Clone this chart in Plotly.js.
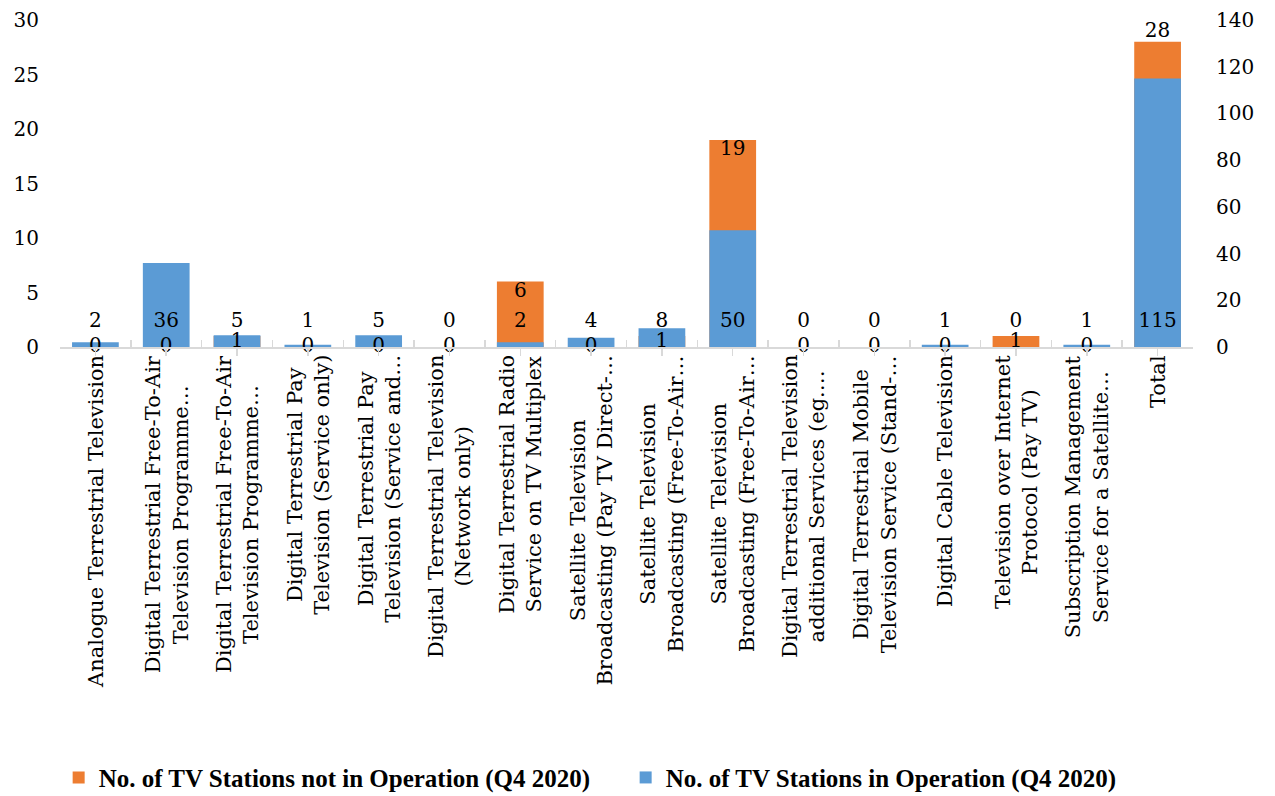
<!DOCTYPE html>
<html>
<head>
<meta charset="utf-8">
<script src="https://cdn.plot.ly/plotly-3.0.1.min.js"></script>
<style>
  html, body { margin: 0; padding: 0; background: #ffffff; }
  #chart { width: 1275px; height: 796px; }
</style>
</head>
<body>
<div id="chart"></div>
<script>
// ---- data ----
const categories = [
  "Analogue Terrestrial Television",
  "Digital Terrestrial Free-To-Air<br>Television Programme…",
  "Digital Terrestrial Free-To-Air<br>Television Programme…",
  "Digital Terrestrial Pay<br>Television (Service only)",
  "Digital Terrestrial Pay<br>Television (Service and…",
  "Digital Terrestrial Television<br>(Network only)",
  "Digital Terrestrial Radio<br>Service on TV Multiplex",
  "Satellite Television<br>Broadcasting (Pay TV Direct-…",
  "Satellite Television<br>Broadcasting (Free-To-Air…",
  "Satellite Television<br>Broadcasting (Free-To-Air…",
  "Digital Terrestrial Television<br>additional Services (eg.…",
  "Digital Terrestrial Mobile<br>Television Service (Stand-…",
  "Digital Cable Television",
  "Television over Internet<br>Protocol (Pay TV)",
  "Subscription Management<br>Service for a Satellite…",
  "Total"
];
const notInOperation = [0, 0, 1, 0, 0, 0, 6, 0, 1, 19, 0, 0, 0, 1, 0, 28];
const inOperation    = [2, 36, 5, 1, 5, 0, 2, 4, 8, 50, 0, 0, 1, 0, 1, 115];
const seriesNames = [
  "No. of TV Stations not in Operation (Q4 2020)",
  "No. of TV Stations in Operation (Q4 2020)"
];
const leftTicks = [0, 5, 10, 15, 20, 25, 30];
const rightTicks = [0, 20, 40, 60, 80, 100, 120, 140];

// ---- styling ----
const ORANGE = "#ED7D31";
const BLUE = "#5B9BD5";
const SERIF = "DejaVu Serif, Liberation Serif, serif";
const BLUE_LABEL_LEVEL = 10.5; // label row height in right-axis units
const xIdx = categories.map((_, i) => i);
// small orange values are labelled at the middle of their bar, larger ones at the top
const orangeLabelY = notInOperation.map(v => v >= 5 ? v : v / 2);
const orangeLabelPos = notInOperation.map(v => v >= 20 ? "top center" : (v >= 5 ? "bottom center" : "middle center"));

const traces = [
  {
    type: "bar", name: seriesNames[0], x: xIdx, y: notInOperation,
    xaxis: "x", yaxis: "y", marker: { color: ORANGE }, width: 0.66,
    hoverinfo: "skip"
  },
  {
    type: "bar", name: seriesNames[1], x: xIdx, y: inOperation,
    xaxis: "x", yaxis: "y2", marker: { color: BLUE }, width: 0.66,
    hoverinfo: "skip"
  },
  {
    type: "scatter", mode: "text", x: xIdx, y: inOperation.map(() => BLUE_LABEL_LEVEL),
    text: inOperation.map(String), textposition: "middle center",
    textfont: { family: SERIF, size: 20, color: "#000" },
    xaxis: "x", yaxis: "y2", showlegend: false, hoverinfo: "skip", cliponaxis: false
  },
  {
    type: "scatter", mode: "text", x: xIdx, y: orangeLabelY,
    text: notInOperation.map(String), textposition: orangeLabelPos,
    textfont: { family: SERIF, size: 20, color: "#000" },
    xaxis: "x", yaxis: "y3", showlegend: false, hoverinfo: "skip", cliponaxis: false
  }
];

const annotations = categories.map((c, i) => ({
  x: i, y: 0, xref: "x", yref: "y", text: c, textangle: -90,
  showarrow: false, xanchor: "center", yanchor: "top", yshift: -6, align: "center",
  font: { family: SERIF, size: 21, color: "#000" }
}));

const layout = {
  width: 1275, height: 796,
  margin: { l: 60, r: 82, t: 20, b: 449, autoexpand: false },
  paper_bgcolor: "#ffffff", plot_bgcolor: "#ffffff",
  barmode: "overlay",
  showlegend: true,
  font: { family: SERIF, size: 20, color: "#000" },
  xaxis: {
    range: [-0.5, categories.length - 0.5],
    tickmode: "linear", tick0: -0.5, dtick: 1,
    ticks: "inside", ticklen: 7, tickcolor: "#d9d9d9", tickwidth: 1.5,
    minor: { tickmode: "linear", tick0: 0, dtick: 1, ticks: "outside", ticklen: 7, tickcolor: "#d9d9d9", tickwidth: 1.5 },
    showticklabels: false, showgrid: false, zeroline: false,
    showline: true, linecolor: "#d9d9d9", linewidth: 1.5
  },
  yaxis: {
    range: [0, 30], tickmode: "array", tickvals: leftTicks,
    showgrid: false, zeroline: false, showline: false, ticks: "",
    ticklabelstandoff: 20,
    tickfont: { family: SERIF, size: 20, color: "#000" }
  },
  yaxis2: {
    range: [0, 140], tickmode: "array", tickvals: rightTicks,
    overlaying: "y", side: "right",
    showgrid: false, zeroline: false, showline: false, ticks: "",
    ticklabelstandoff: 22,
    tickfont: { family: SERIF, size: 20, color: "#000" }
  },
  yaxis3: {
    range: [0, 30], overlaying: "y", visible: false
  },
  legend: {
    orientation: "h", xref: "container", yref: "container",
    x: 0.046, xanchor: "left", y: 0.023, yanchor: "middle",
    font: { family: "Liberation Serif, serif", size: 25, color: "#000", weight: "bold" },
    entrywidth: 522, traceorder: "normal", bgcolor: "rgba(0,0,0,0)"
  },
  annotations: annotations
};

Plotly.newPlot("chart", traces, layout, { displayModeBar: false, staticPlot: true });
</script>
</body>
</html>
